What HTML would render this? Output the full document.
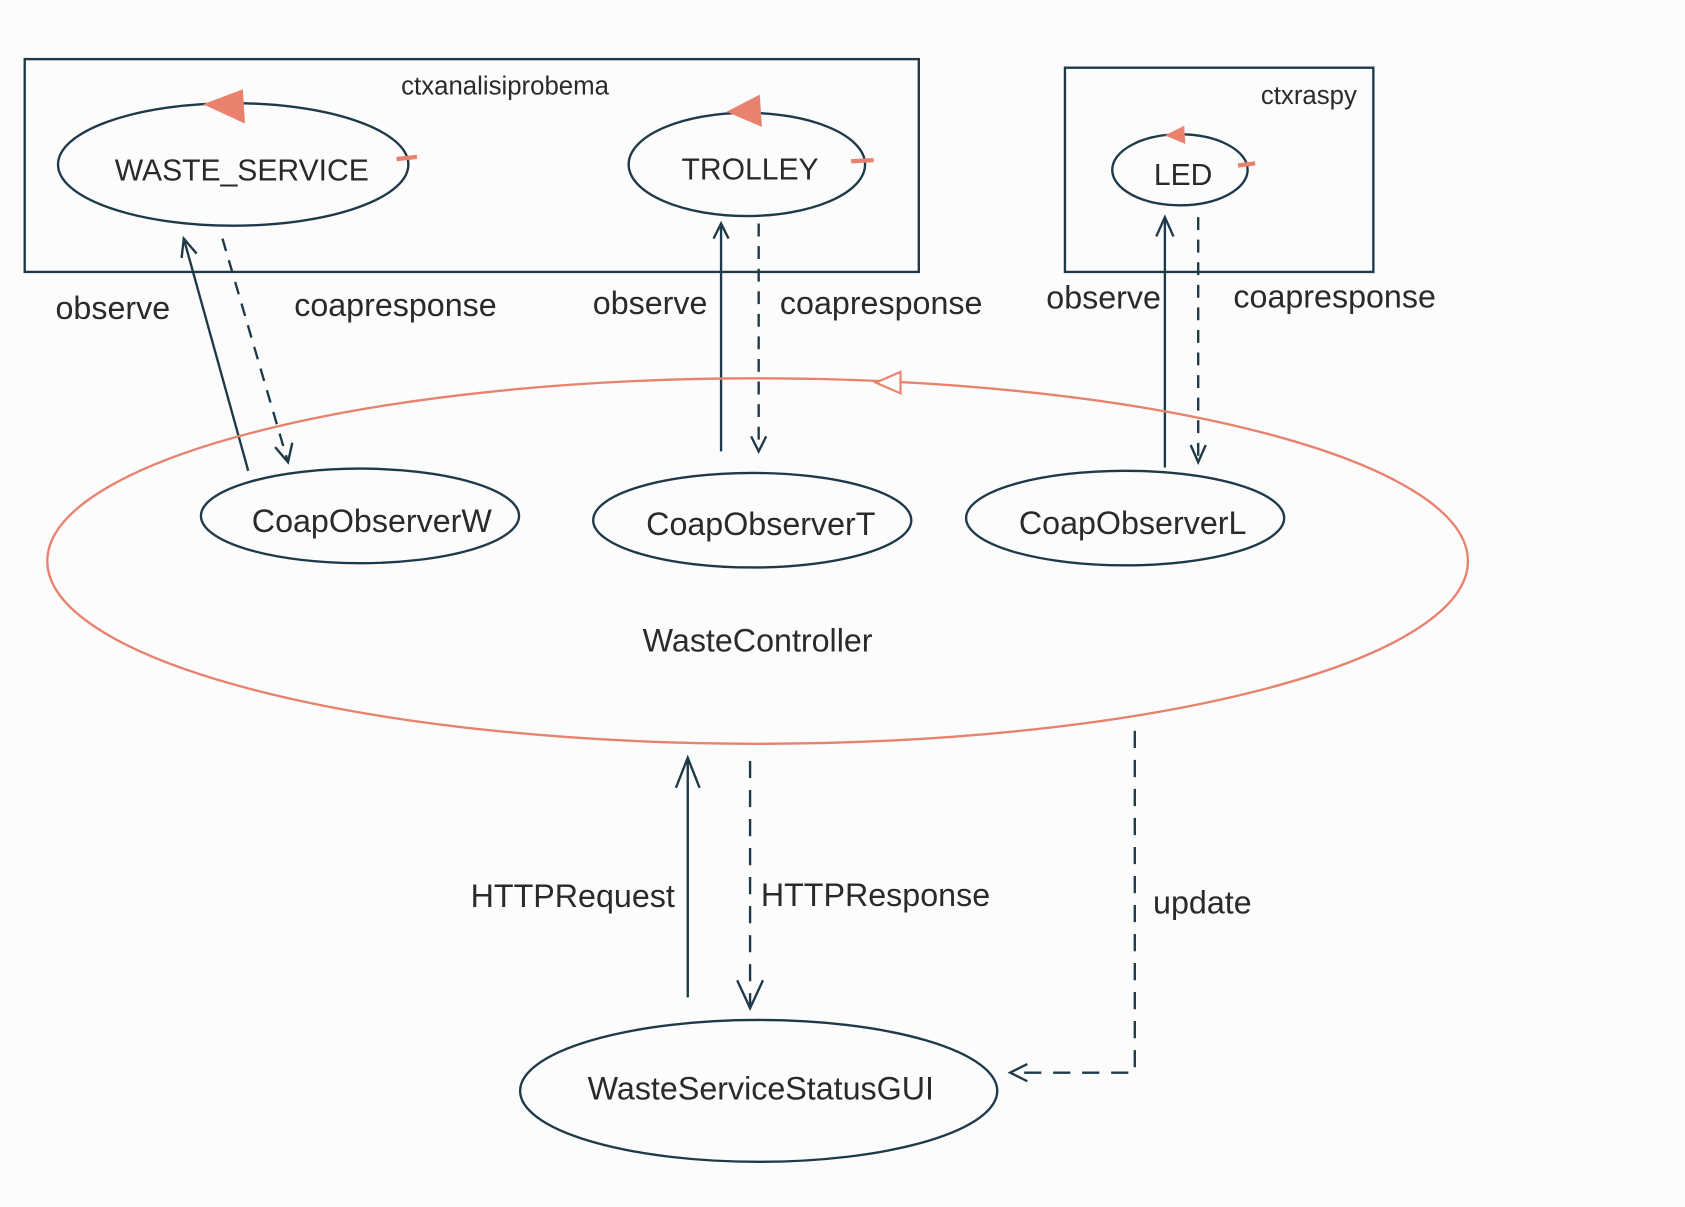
<!DOCTYPE html>
<html><head><meta charset="utf-8"><style>
html,body{margin:0;padding:0;background:#fcfcfc;}
svg{display:block;}
text{font-family:"Liberation Sans",sans-serif;fill:#2a2a2a;}
</style></head><body>
<svg width="1685" height="1207" viewBox="0 0 1568 1123" preserveAspectRatio="none" xmlns="http://www.w3.org/2000/svg">
<rect width="1568" height="1123" fill="#fcfcfc"/>
<g fill="none" stroke="#1e3a48" stroke-width="2.2">
<rect x="23" y="55" width="832" height="198"/>
<rect x="991" y="63" width="287" height="190"/>
<ellipse cx="217" cy="153" rx="163" ry="57"/>
<ellipse cx="695" cy="153" rx="110" ry="48"/>
<ellipse cx="1098" cy="158" rx="63" ry="33"/>
<ellipse cx="335" cy="480" rx="148" ry="44"/>
<ellipse cx="700" cy="484" rx="148" ry="44"/>
<ellipse cx="1047" cy="482" rx="148" ry="44"/>
<ellipse cx="706" cy="1015" rx="222" ry="66"/>
<line x1="231" y1="438" x2="171" y2="222"/><polyline points="169,240 171,222 183,236"/>
<line x1="207" y1="222" x2="268" y2="430" stroke-dasharray="12,9"/><polyline points="256,416 268,430 272,412"/>
<line x1="671" y1="420" x2="671" y2="208"/><polyline points="664,222 671,208 678,222"/>
<line x1="706" y1="208" x2="706" y2="420" stroke-dasharray="12,9"/><polyline points="699,406 706,420 713,406"/>
<line x1="1084" y1="435" x2="1084" y2="202"/><polyline points="1076,220 1084,202 1092,220"/>
<line x1="1115" y1="202" x2="1115" y2="430" stroke-dasharray="12,9"/><polyline points="1108,414 1115,430 1122,414"/>
<line x1="640" y1="928" x2="640" y2="705"/><polyline points="629,733 640,705 651,733"/>
<line x1="698" y1="708" x2="698" y2="938" stroke-dasharray="16,11"/><polyline points="686,912 698,938 710,912"/>
<polyline points="1056,680 1056,998 940,998" stroke-dasharray="16,11"/><polyline points="956,990 940,998 956,1006"/>
</g>
<ellipse cx="705" cy="522" rx="661" ry="170" fill="none" stroke="#e8826e" stroke-width="2.2"/>
<polygon points="815,356 838,346 838,366" fill="#fcfcfc" stroke="#e8826e" stroke-width="2"/>
<g fill="#e8826e">
<polygon points="189,97 226,83 228,115"/>
<polygon points="676,104 707,88 709,118"/>
<polygon points="1084,126 1102,117 1103,134"/>
</g>
<g stroke="#e8826e" stroke-width="4">
<line x1="369" y1="148" x2="388" y2="146"/>
<line x1="792" y1="150" x2="813" y2="149"/>
<line x1="1152" y1="154" x2="1168" y2="152"/>
</g>
<g font-size="24">
<text x="470" y="88" text-anchor="middle">ctxanalisiprobema</text>
<text x="1218" y="97" text-anchor="middle">ctxraspy</text>
</g>
<g font-size="28" text-anchor="middle">
<text x="225" y="168">WASTE_SERVICE</text>
<text x="698" y="167">TROLLEY</text>
<text x="1101" y="172">LED</text>
</g>
<g font-size="30" text-anchor="middle">
<text x="346" y="495">CoapObserverW</text>
<text x="708" y="498">CoapObserverT</text>
<text x="1054" y="497">CoapObserverL</text>
<text x="705" y="606">WasteController</text>
<text x="708" y="1023">WasteServiceStatusGUI</text>
<text x="105" y="297">observe</text>
<text x="368" y="294">coapresponse</text>
<text x="605" y="292">observe</text>
<text x="820" y="292">coapresponse</text>
<text x="1027" y="287">observe</text>
<text x="1242" y="286">coapresponse</text>
</g>
<g font-size="30">
<text x="628" y="844" text-anchor="end">HTTPRequest</text>
<text x="708" y="843">HTTPResponse</text>
<text x="1073" y="850">update</text>
</g>
</svg>
</body></html>
